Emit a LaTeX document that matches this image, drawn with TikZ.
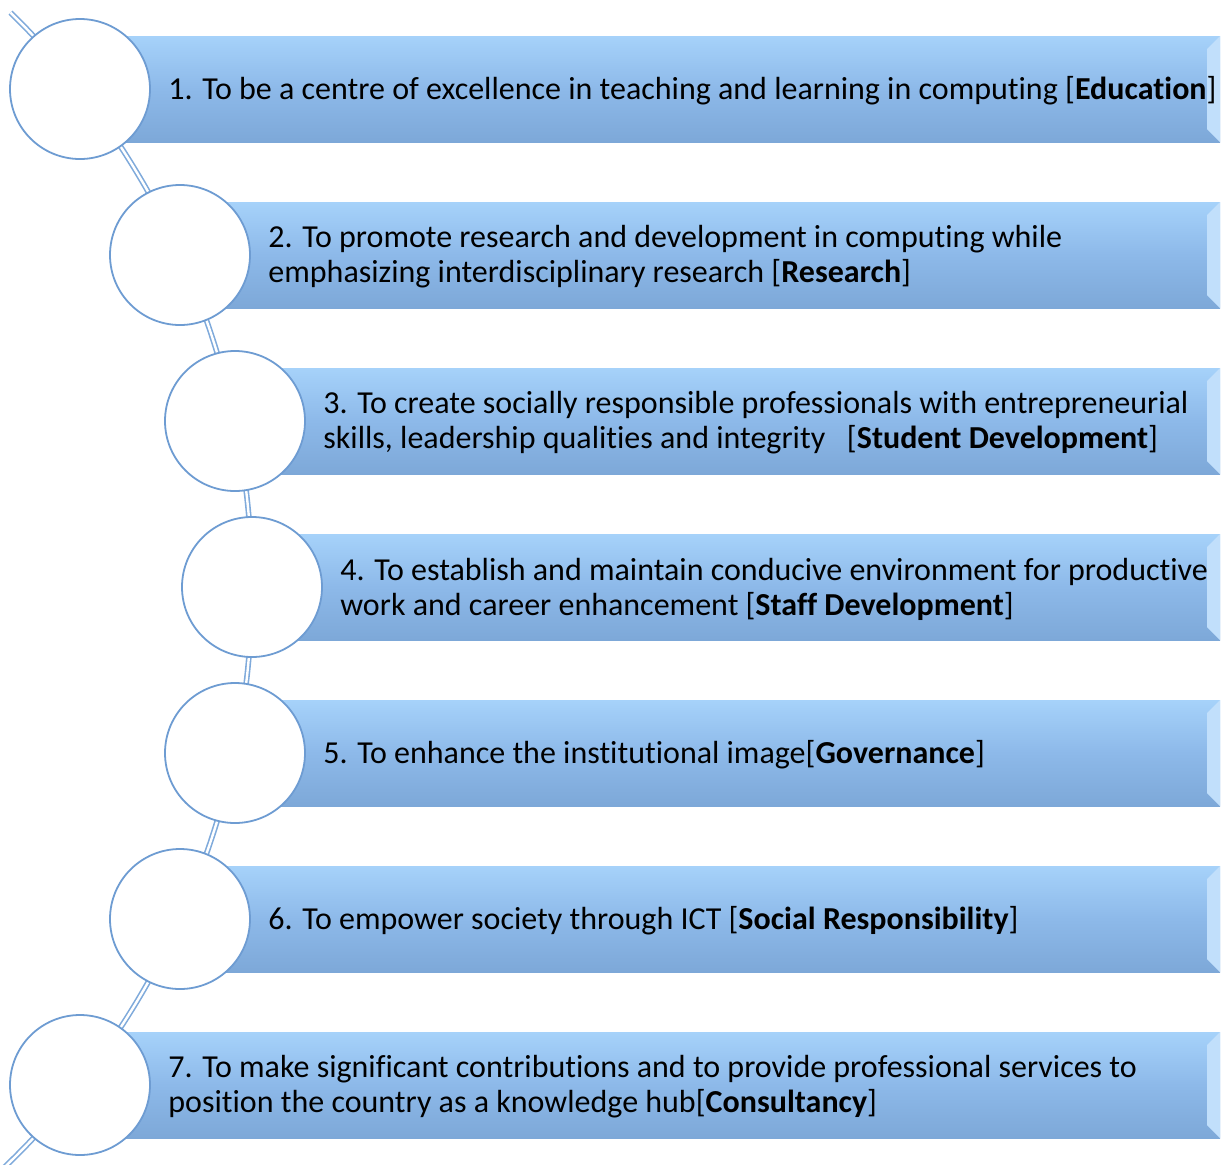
\documentclass[tikz,border=0pt]{standalone}
\usepackage{fontspec}
\setmainfont{Carlito}[Ligatures=NoCommon]
\definecolor{barmid}{HTML}{8DB9E9}
\definecolor{bartop}{HTML}{A6D2FA}
\definecolor{barbot}{HTML}{7DA8D8}
\definecolor{ringblue}{HTML}{6E9CD2}
\definecolor{linkblue}{HTML}{7FAADB}
\tikzset{
  ring/.style={circle, draw=ringblue, line width=0.9pt, fill=white, minimum size=70pt, inner sep=0pt},
  goal/.style={anchor=west, align=left, font=\fontsize{16}{17.5}\selectfont, inner sep=0pt},
  bevel/.style={fill=bartop!70!white}
}
\begin{document}
\begin{tikzpicture}[x=0.5pt,y=-0.5pt,variable=\t]
\useasboundingbox (0,0) rectangle (1223,1164);
\clip (0,0) rectangle (1223,1164);
% double link through the rings
\draw[linkblue, line width=0.8pt, double=white, double distance=1.2pt, domain=-45.6:47, smooth, samples=60]
  plot ({-552+804*cos(\t)},{587+804*sin(\t)});
\foreach \i/\cx/\txt in {
  1/80/{1. To be a centre of excellence in teaching and learning in computing [\textbf{Education}]},
  2/180/{2. To promote research and development in computing while\\emphasizing interdisciplinary research [\textbf{Research}]},
  3/235/{3. To create socially responsible professionals with entrepreneurial\\skills, leadership qualities and integrity\ \ \ [\textbf{Student Development}]},
  4/252/{4. To establish and maintain conducive environment for productive\\work and career enhancement [\textbf{Staff Development}]},
  5/235/{5. To enhance the institutional image[\textbf{Governance}]},
  6/180/{6. To empower society through ICT [\textbf{Social Responsibility}]},
  7/80/{7. To make significant contributions and to provide professional services to\\position the country as a knowledge hub[\textbf{Consultancy}]}} {
  \pgfmathsetmacro\cy{89+166*(\i-1)}
  \shade[top color=bartop, bottom color=barbot, middle color=barmid] (\cx,\cy-53) rectangle (1220,\cy+53);
  \fill[bevel] (1220,\cy-53) -- (1220,\cy+53) -- (1207,\cy+40) -- (1207,\cy-40) -- cycle;
  \node[ring] (c\i) at (\cx,\cy) {};
  \node[goal] (t\i) at (\cx+88,\cy+2) {\txt};
}
\end{tikzpicture}
\end{document}
